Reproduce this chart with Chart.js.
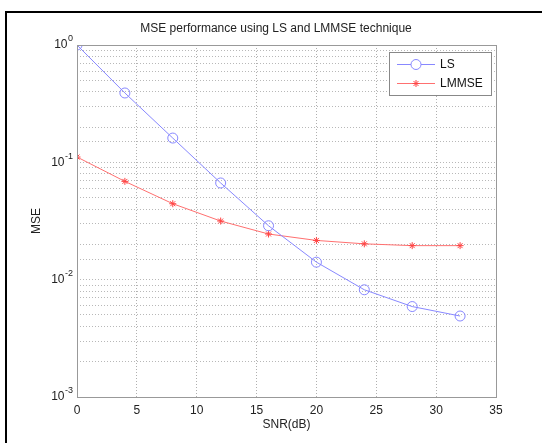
<!DOCTYPE html>
<html>
<head>
<meta charset="utf-8">
<script src="https://cdn.jsdelivr.net/npm/chart.js@4"></script>
<style>
  html, body { margin: 0; padding: 0; background: #fff; }
  #wrap { width: 542px; height: 443px; }
</style>
</head>
<body>
<div id="wrap"><canvas id="mse"></canvas></div>
<script>
// values
const snr = [0, 4, 8, 12, 16, 20, 24, 28, 32];
const mseLS = [1.0, 0.39, 0.161, 0.0667, 0.0288, 0.0141, 0.0082, 0.0059, 0.0049];
const mseLMMSE = [0.111, 0.0688, 0.0444, 0.0316, 0.0245, 0.0216, 0.0202, 0.0195, 0.0195];
const decades = [1, 0.1, 0.01, 0.001];

const FONT = '"Liberation Sans", Arial, sans-serif';

function pts(xs, ys) {
  return xs.map((x, i) => ({ x: x, y: ys[i] }));
}

// figure frame, title, axis labels, y labels with exponents, legend inside the axes
const figure = {
  id: 'figure',
  beforeDraw(chart) {
    const ctx = chart.ctx;
    ctx.save();
    ctx.fillStyle = '#fff';
    ctx.fillRect(0, 0, chart.width, chart.height);
    ctx.fillStyle = '#000';
    ctx.fillRect(5, 11, chart.width - 5, 2);
    ctx.fillRect(5, 11, 2, chart.height - 11);
    ctx.restore();
  },
  afterDraw(chart) {
    const ctx = chart.ctx;
    const area = chart.chartArea;
    const y = chart.scales.y;
    ctx.save();

    ctx.fillStyle = '#222';
    ctx.font = '12px ' + FONT;
    ctx.textAlign = 'center';
    ctx.textBaseline = 'middle';
    ctx.fillText('MSE performance using LS and LMMSE technique', 276, 29);
    ctx.fillText('SNR(dB)', (area.left + area.right) / 2, 425);
    ctx.save();
    ctx.translate(37, (area.top + area.bottom) / 2);
    ctx.rotate(-Math.PI / 2);
    ctx.fillText('MSE', 0, 0);
    ctx.restore();

    // y tick labels 10^k
    decades.forEach((v) => {
      const py = y.getPixelForValue(v);
      const exp = String(Math.round(Math.log10(v)));
      ctx.font = '9px ' + FONT;
      const ew = ctx.measureText(exp).width;
      ctx.textAlign = 'left';
      ctx.textBaseline = 'middle';
      const ex = area.left - 4 - ew;
      ctx.fillText(exp, ex, py - 6);
      ctx.font = '12px ' + FONT;
      ctx.textAlign = 'right';
      ctx.fillText('10', ex - 0.5, py);
    });

    // plot box
    ctx.strokeStyle = '#999';
    ctx.lineWidth = 1;
    ctx.strokeRect(Math.round(area.left) + 0.5, Math.round(area.top) + 0.5,
      Math.round(area.right - area.left), Math.round(area.bottom - area.top));

    // legend
    const lx = 389, ly = 52, lw = 102, lh = 43;
    ctx.fillStyle = '#fff';
    ctx.fillRect(lx, ly, lw, lh);
    ctx.strokeStyle = '#888';
    ctx.strokeRect(lx + 0.5, ly + 0.5, lw, lh);
    chart.data.datasets.forEach((ds, i) => {
      const ry = ly + 12 + i * 19;
      ctx.strokeStyle = ds.borderColor;
      ctx.lineWidth = 1;
      ctx.beginPath();
      ctx.moveTo(lx + 8, ry + 0.5);
      ctx.lineTo(lx + 46, ry + 0.5);
      ctx.stroke();
      ctx.strokeStyle = ds.pointBorderColor;
      Chart.helpers.drawPoint(ctx, {
        pointStyle: ds.pointStyle,
        radius: ds.pointRadius,
        borderWidth: 1
      }, lx + 27, ry + 0.5);
      ctx.fillStyle = '#111';
      ctx.font = '12px ' + FONT;
      ctx.textAlign = 'left';
      ctx.textBaseline = 'middle';
      ctx.fillText(ds.label, lx + 51, ry + 1);
    });
    ctx.restore();
  }
};

const ctx = document.getElementById('mse').getContext('2d');
const chart = new Chart(ctx, {
  type: 'line',
  data: {
    datasets: [
      {
        label: 'LS',
        data: pts(snr, mseLS),
        borderColor: '#8888ff',
        backgroundColor: 'rgba(0,0,0,0)',
        pointBorderColor: '#8888ff',
        pointStyle: 'circle',
        pointRadius: 5,
        pointBorderWidth: 1,
        borderWidth: 1,
        tension: 0,
      },
      {
        label: 'LMMSE',
        data: pts(snr, mseLMMSE),
        borderColor: '#ff7070',
        backgroundColor: 'rgba(0,0,0,0)',
        pointBorderColor: '#ff4444',
        pointStyle: 'star',
        pointRadius: 3.5,
        pointBorderWidth: 1,
        borderWidth: 1,
        tension: 0,
      },
    ],
  },
  options: {
    responsive: true,
    maintainAspectRatio: false,
    animation: false,
    layout: { padding: { left: 0, right: 46, top: 45, bottom: 0 } },
    plugins: {
      legend: { display: false },
      tooltip: { enabled: false },
    },
    scales: {
      x: {
        type: 'linear',
        min: 0,
        max: 35,
        ticks: { stepSize: 5, color: '#222', font: { family: FONT, size: 12 }, padding: 6, maxRotation: 0 },
        grid: { color: '#b0b0b0', lineWidth: 1, drawTicks: false },
        border: { display: false, dash: [1, 2] },
        afterFit(s) { s.height = 46; },
      },
      y: {
        type: 'logarithmic',
        min: 0.001,
        max: 1,
        ticks: {
          autoSkip: false,
          color: 'rgba(0,0,0,0)',
          font: { family: FONT, size: 12 },
          callback: (v) => (decades.includes(v) ? '10' : ''),
        },
        grid: { color: '#b8b8b8', lineWidth: 1, drawTicks: false },
        border: { display: false, dash: [1, 2] },
        afterFit(s) { s.width = 77; },
      },
    },
  },
  plugins: [figure],
});
</script>
</body>
</html>
